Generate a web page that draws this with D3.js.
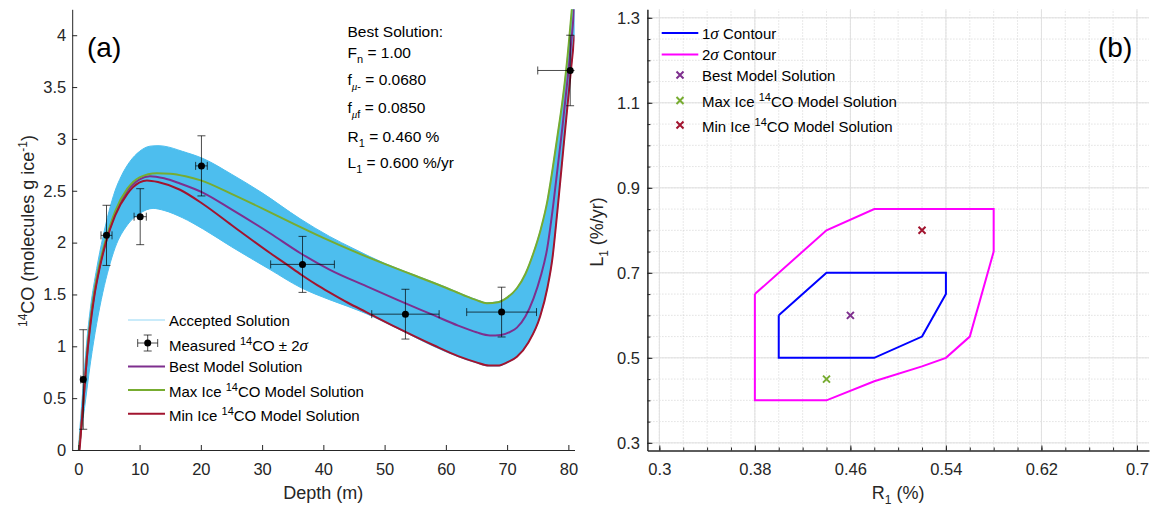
<!DOCTYPE html>
<html>
<head>
<meta charset="utf-8">
<script src="https://cdn.jsdelivr.net/npm/d3@7"></script>
<style>
  body { margin: 0; background: #fff; }
  svg { display: block; }
  text { font-family: Arial, "Liberation Sans", Helvetica, sans-serif; }
</style>
</head>
<body>
<svg id="fig" width="1151" height="508"></svg>
<script>
// ---- panel (a) data: depth (m), 14CO (molecules g ice^-1) ----
const acceptedUpper = [[0,0],[0.5,0.4],[1,0.78],[1.5,1.12],[2,1.38],[3,1.75],[4,2.05],[5,2.3],[6,2.5],[7,2.64],[8.4,2.78],[10,2.88],[11.7,2.93],[13,2.935],[14,2.93],[17,2.88],[20.4,2.81],[25,2.66],[30,2.48],[36.2,2.23],[41,2.06],[45,1.94],[50,1.8],[55,1.685],[60,1.57],[63,1.495],[65,1.45],[66.7,1.42],[68.5,1.43],[70,1.475],[71.6,1.565],[73,1.705],[74.3,1.905],[75.5,2.135],[76.6,2.415],[77.4,2.705],[78.2,3.025],[79,3.355],[79.7,3.705],[80.55,4.245],[81,4.555]];
const acceptedLower = [[0,0],[1,0.4],[2,0.85],[3,1.22],[4,1.52],[5,1.76],[6,1.95],[8,2.17],[10,2.28],[12.2,2.33],[14,2.31],[17,2.24],[20.4,2.13],[25,1.96],[31.3,1.74],[36.2,1.57],[41,1.45],[44,1.385],[47,1.315],[52,1.175],[58,1.0],[62,0.9],[65,0.84],[67,0.81],[68.5,0.81],[70,0.84],[71.6,0.9],[73.5,1.04],[75.4,1.29],[76.6,1.57],[77.4,1.85],[78.2,2.3],[79.3,2.98],[80.4,3.65],[81,4.0]];
const bestModel = [[0.1,0],[0.6,0.3],[1,0.6],[1.5,0.97],[2,1.25],[2.6,1.5],[3.5,1.78],[4.5,2.01],[6,2.28],[8,2.5],[10,2.61],[11.7,2.64],[14,2.62],[16.6,2.57],[20.4,2.48],[25,2.32],[31.3,2.09],[36.2,1.9],[41,1.74],[47,1.58],[52,1.45],[58,1.3],[62,1.2],[65,1.135],[67.2,1.105],[69,1.11],[70.5,1.14],[71.6,1.18],[73,1.29],[74.3,1.46],[75.5,1.68],[76.5,1.93],[77.5,2.35],[78.3,2.75],[79,3.1],[80,3.65],[80.9,4.22],[81.2,4.45]];
const maxIceModel = [[0.1,0],[0.6,0.3],[1,0.6],[1.5,0.98],[2,1.26],[2.6,1.52],[3.5,1.8],[4.5,2.03],[6,2.3],[8,2.52],[10,2.63],[12.8,2.67],[15,2.665],[17.5,2.64],[20,2.6],[25,2.47],[30,2.33],[35,2.185],[40,2.045],[45,1.915],[50,1.795],[55,1.68],[60,1.565],[63,1.49],[65,1.445],[66.7,1.415],[68.5,1.425],[70,1.47],[71.6,1.56],[73,1.7],[74.3,1.9],[75.5,2.13],[76.6,2.41],[77.4,2.7],[78.2,3.02],[79,3.35],[79.7,3.7],[80.55,4.24],[81,4.55]];
const minIceModel = [[0.2,0],[0.6,0.3],[1,0.6],[1.5,0.95],[2,1.22],[2.6,1.48],[3.5,1.76],[4.5,2.0],[6,2.26],[8,2.47],[10,2.58],[11.2,2.6],[13,2.585],[16.6,2.51],[20.4,2.37],[25,2.17],[28,2.04],[31.3,1.9],[34,1.79],[36.4,1.69],[39,1.59],[41,1.52],[44,1.42],[47,1.33],[52,1.18],[58,1.01],[62,0.905],[65,0.845],[67,0.815],[68.5,0.815],[70,0.845],[71.6,0.9],[73.5,1.04],[75.4,1.29],[76.6,1.57],[77.4,1.85],[78.2,2.3],[79.3,2.98],[80.4,3.65],[81,4.0]];

const measDepth = [0.8, 4.6, 10.1, 20.1, 36.6, 53.4, 69.1, 80.3];
const measCO    = [0.68, 2.07, 2.25, 2.74, 1.79, 1.31, 1.33, 3.66];
const measErrCO = [0.48, 0.29, 0.27, 0.29, 0.27, 0.24, 0.24, 0.34];
const measErrD  = [0.4, 0.9, 1.0, 0.95, 5.2, 5.5, 5.7, 5.3];

const depthTicks = [0, 10, 20, 30, 40, 50, 60, 70, 80];
const coTicks = [0, 0.5, 1, 1.5, 2, 2.5, 3, 3.5, 4];

// ---- panel (b) data: R1 (%), L1 (%/yr) ----
const sigma1R = [0.40, 0.44, 0.54, 0.54, 0.52, 0.48, 0.40, 0.40];
const sigma1L = [0.60, 0.70, 0.70, 0.65, 0.55, 0.50, 0.50, 0.60];
const sigma2R = [0.38, 0.44, 0.48, 0.58, 0.58, 0.56, 0.54, 0.52, 0.48, 0.44, 0.38, 0.38];
const sigma2L = [0.65, 0.80, 0.85, 0.85, 0.75, 0.55, 0.50, 0.48, 0.445, 0.40, 0.40, 0.65];
const solutionR = [0.46, 0.44, 0.52];
const solutionL = [0.60, 0.45, 0.80];
const rTicks = [0.3, 0.38, 0.46, 0.54, 0.62, 0.7];
const lTicks = [0.3, 0.5, 0.7, 0.9, 1.1, 1.3];

const axisColor = "#262626";
const cBand = "#4DBEEE", cBest = "#7E2F8E", cMax = "#77AC30", cMin = "#A2142F";
const solutionColors = [cBest, cMax, cMin];

const svg = d3.select("#fig");

// ================= panel (a) =================
const xA = d3.scaleLinear().domain([-1, 81]).range([72.2, 574.5]);
const yA = d3.scaleLinear().domain([0, 4.25]).range([450, 9.3]);

svg.append("defs").append("clipPath").attr("id", "clipA")
  .append("rect").attr("x", xA(-1)).attr("y", yA(4.25))
  .attr("width", xA(81) - xA(-1)).attr("height", yA(0) - yA(4.25));

const lineA = d3.line().x(d => xA(d[0])).y(d => yA(d[1])).curve(d3.curveMonotoneX);
const plotA = svg.append("g").attr("clip-path", "url(#clipA)");

const bandPath = lineA(acceptedUpper) + "L" + lineA(acceptedLower.slice().reverse()).slice(1) + "Z";
plotA.append("path").attr("d", bandPath)
  .attr("fill", cBand).attr("stroke", cBand).attr("stroke-width", 1);

[[bestModel, cBest], [maxIceModel, cMax], [minIceModel, cMin]].forEach(([data, c]) => {
  plotA.append("path").attr("d", lineA(data))
    .attr("fill", "none").attr("stroke", c).attr("stroke-width", 2);
});

// measured points with error bars
const eb = plotA.append("g").attr("stroke", "#000").attr("stroke-opacity", 0.7).attr("stroke-width", 1);
measDepth.forEach((d, i) => {
  const cx = xA(d), cy = yA(measCO[i]);
  const y0 = yA(measCO[i] - measErrCO[i]), y1 = yA(measCO[i] + measErrCO[i]);
  const x0 = xA(d - measErrD[i]), x1 = xA(d + measErrD[i]);
  eb.append("line").attr("x1", cx).attr("x2", cx).attr("y1", y0).attr("y2", y1);
  eb.append("line").attr("x1", cx - 4).attr("x2", cx + 4).attr("y1", y0).attr("y2", y0);
  eb.append("line").attr("x1", cx - 4).attr("x2", cx + 4).attr("y1", y1).attr("y2", y1);
  eb.append("line").attr("x1", x0).attr("x2", x1).attr("y1", cy).attr("y2", cy);
  eb.append("line").attr("x1", x0).attr("x2", x0).attr("y1", cy - 4).attr("y2", cy + 4);
  eb.append("line").attr("x1", x1).attr("x2", x1).attr("y1", cy - 4).attr("y2", cy + 4);
});
plotA.append("g").selectAll("circle").data(measDepth).join("circle")
  .attr("cx", d => xA(d)).attr("cy", (d, i) => yA(measCO[i])).attr("r", 3.5).attr("fill", "#000");

// axes (a)
function styleAxis(g) {
  g.select(".domain").attr("stroke", axisColor);
  g.selectAll(".tick line").attr("stroke", axisColor);
  g.selectAll(".tick text").attr("fill", axisColor).attr("font-size", 16.5)
    .attr("font-family", "Arial, 'Liberation Sans', sans-serif");
}
svg.append("g").attr("transform", `translate(0,${yA(0)})`)
  .call(d3.axisBottom(xA).tickValues(depthTicks).tickSize(-5).tickSizeOuter(0).tickPadding(13).tickFormat(d => d))
  .call(styleAxis);
svg.append("g").attr("transform", `translate(${xA(-1)},0)`)
  .call(d3.axisLeft(yA).tickValues(coTicks).tickSize(-5).tickSizeOuter(0).tickPadding(6).tickFormat(d => d))
  .call(styleAxis);

svg.append("text").attr("x", (xA(-1) + xA(81)) / 2).attr("y", 499).attr("text-anchor", "middle")
  .attr("font-size", 18).attr("fill", axisColor).text("Depth (m)");
const yl = svg.append("text").attr("transform", "translate(34,231) rotate(-90)")
  .attr("text-anchor", "middle").attr("font-size", 18).attr("fill", axisColor);
yl.append("tspan").attr("font-size", 12).attr("dy", -7).text("14");
yl.append("tspan").attr("dy", 7).text("CO (molecules g ice");
yl.append("tspan").attr("font-size", 12).attr("dy", -7).text("-1");
yl.append("tspan").attr("dy", 7).text(")");

svg.append("text").attr("x", 87).attr("y", 57).attr("font-size", 28).attr("fill", "#000").text("(a)");

// annotation
const ann = svg.append("g").attr("font-size", 15.5).attr("fill", "#000");
const annRows = [
  {y: 37, main: "Best Solution:", sub: null, rest: ""},
  {y: 58, main: "F", sub: "n", rest: " = 1.00"},
  {y: 85, main: "f", sub: "\u03BC-", rest: " = 0.0680"},
  {y: 113, main: "f", sub: "\u03BCf", rest: " = 0.0850"},
  {y: 142, main: "R", sub: "1", rest: " = 0.460 %"},
  {y: 168, main: "L", sub: "1", rest: " = 0.600 %/yr"}
];
annRows.forEach(r => {
  const t = ann.append("text").attr("x", 347.5).attr("y", r.y);
  t.append("tspan").text(r.main);
  if (r.sub) {
    const s = t.append("tspan").attr("dy", 5).attr("font-size", 11);
    if (r.sub[0] === "\u03BC") {
      s.append("tspan").attr("font-style", "italic").attr("font-family", "'Liberation Serif', serif").text("\u03BC");
      s.append("tspan").text(r.sub.slice(1));
    } else s.text(r.sub);
    t.append("tspan").attr("dy", -5).text(r.rest);
  }
});

// legend (a)
const legA = svg.append("g").attr("font-size", 15).attr("fill", "#000");
const legARows = [320, 343, 366.5, 390, 413.7];
legA.append("line").attr("x1", 128).attr("x2", 165).attr("y1", legARows[0]).attr("y2", legARows[0])
  .attr("stroke", cBand).attr("stroke-opacity", 0.6).attr("stroke-width", 1.2);
{
  const cx = 147.7, cy = legARows[1];
  const g = legA.append("g").attr("stroke", "#000").attr("stroke-opacity", 0.7).attr("stroke-width", 1);
  g.append("line").attr("x1", cx).attr("x2", cx).attr("y1", cy - 8).attr("y2", cy + 8);
  g.append("line").attr("x1", cx - 4).attr("x2", cx + 4).attr("y1", cy - 8).attr("y2", cy - 8);
  g.append("line").attr("x1", cx - 4).attr("x2", cx + 4).attr("y1", cy + 8).attr("y2", cy + 8);
  g.append("line").attr("x1", cx - 10).attr("x2", cx + 10).attr("y1", cy).attr("y2", cy);
  g.append("line").attr("x1", cx - 10).attr("x2", cx - 10).attr("y1", cy - 4).attr("y2", cy + 4);
  g.append("line").attr("x1", cx + 10).attr("x2", cx + 10).attr("y1", cy - 4).attr("y2", cy + 4);
  legA.append("circle").attr("cx", cx).attr("cy", cy).attr("r", 3.5).attr("fill", "#000");
}
[cBest, cMax, cMin].forEach((c, i) => {
  const y = legARows[i + 2];
  legA.append("line").attr("x1", 128).attr("x2", 165).attr("y1", y).attr("y2", y)
    .attr("stroke", c).attr("stroke-width", 2);
});
function supText(parent, x, y, parts) {
  const t = parent.append("text").attr("x", x).attr("y", y);
  parts.forEach(p => {
    const s = t.append("tspan").text(p.t);
    if (p.sup) s.attr("font-size", 11).attr("dy", -6);
    if (p.back) s.attr("dy", 6);
    if (p.it) s.attr("font-style", "italic").attr("font-family", "'Liberation Serif', serif").attr("font-size", 17);
  });
  return t;
}
supText(legA, 169, legARows[0] + 5.5, [{t: "Accepted Solution"}]);
supText(legA, 169, legARows[1] + 8, [{t: "Measured "}, {t: "14", sup: true}, {t: "CO \u00B1 2", back: true}, {t: "\u03C3", it: true}]);
supText(legA, 169, legARows[2] + 5.5, [{t: "Best Model Solution"}]);
supText(legA, 169, legARows[3] + 7, [{t: "Max Ice "}, {t: "14", sup: true}, {t: "CO Model Solution", back: true}]);
supText(legA, 169, legARows[4] + 7, [{t: "Min Ice "}, {t: "14", sup: true}, {t: "CO Model Solution", back: true}]);

// ================= panel (b) =================
const xB = d3.scaleLinear().domain([0.29, 0.71]).range([647.4, 1148.9]);
const yB = d3.scaleLinear().domain([0.282, 1.32]).range([450.5, 9.3]);

const rMinor = d3.range(0.30, 0.7001, 0.02);
const lMinor = d3.range(0.30, 1.3001, 0.05);
const grid = svg.append("g");
grid.selectAll(".vmin").data(rMinor).join("line")
  .attr("x1", d => xB(d)).attr("x2", d => xB(d)).attr("y1", yB(0.282)).attr("y2", yB(1.32))
  .attr("stroke", "#c8c8c8").attr("stroke-width", 0.8).attr("stroke-dasharray", "1,2");
grid.selectAll(".hmin").data(lMinor).join("line")
  .attr("y1", d => yB(d)).attr("y2", d => yB(d)).attr("x1", xB(0.29)).attr("x2", xB(0.71))
  .attr("stroke", "#c8c8c8").attr("stroke-width", 0.8).attr("stroke-dasharray", "1,2");
grid.selectAll(".vmaj").data(rTicks).join("line")
  .attr("x1", d => xB(d)).attr("x2", d => xB(d)).attr("y1", yB(0.282)).attr("y2", yB(1.32))
  .attr("stroke", "#e0e0e0").attr("stroke-width", 1);
grid.selectAll(".hmaj").data(lTicks).join("line")
  .attr("y1", d => yB(d)).attr("y2", d => yB(d)).attr("x1", xB(0.29)).attr("x2", xB(0.71))
  .attr("stroke", "#e0e0e0").attr("stroke-width", 1);

const lineB = d3.line().x(d => xB(d[0])).y(d => yB(d[1]));
svg.append("path").attr("d", lineB(sigma2R.map((r, i) => [r, sigma2L[i]])))
  .attr("fill", "none").attr("stroke", "#FF00FF").attr("stroke-width", 2);
svg.append("path").attr("d", lineB(sigma1R.map((r, i) => [r, sigma1L[i]])))
  .attr("fill", "none").attr("stroke", "#0000FF").attr("stroke-width", 2);

function cross(g, x, y, c) {
  g.append("path").attr("d", `M${x - 3.5},${y - 3.5}L${x + 3.5},${y + 3.5}M${x - 3.5},${y + 3.5}L${x + 3.5},${y - 3.5}`)
    .attr("stroke", c).attr("stroke-width", 2).attr("fill", "none");
}
solutionR.forEach((r, i) => cross(svg, xB(r), yB(solutionL[i]), solutionColors[i]));

// axes (b)
svg.append("g").attr("transform", `translate(0,${yB(0.282)})`)
  .call(d3.axisBottom(xB).tickValues(rMinor).tickSize(-3).tickSizeOuter(0).tickFormat(""))
  .call(styleAxis);
svg.append("g").attr("transform", `translate(${xB(0.29)},0)`)
  .call(d3.axisLeft(yB).tickValues(lMinor).tickSize(-3).tickSizeOuter(0).tickFormat(""))
  .call(styleAxis);
svg.append("g").attr("transform", `translate(0,${yB(0.282)})`)
  .call(d3.axisBottom(xB).tickValues(rTicks).tickSize(-5).tickSizeOuter(0).tickPadding(13).tickFormat(d => String(+d.toFixed(2))))
  .call(styleAxis);
svg.append("g").attr("transform", `translate(${xB(0.29)},0)`)
  .call(d3.axisLeft(yB).tickValues(lTicks).tickSize(-5).tickSizeOuter(0).tickPadding(7.5).tickFormat(d3.format(".1f")))
  .call(styleAxis);

const xl = svg.append("text").attr("x", (xB(0.29) + xB(0.71)) / 2).attr("y", 499)
  .attr("text-anchor", "middle").attr("font-size", 18).attr("fill", axisColor);
xl.append("tspan").text("R");
xl.append("tspan").attr("font-size", 12).attr("dy", 5).text("1");
xl.append("tspan").attr("dy", -5).text(" (%)");
const yl2 = svg.append("text").attr("transform", "translate(603,232) rotate(-90)")
  .attr("text-anchor", "middle").attr("font-size", 18).attr("fill", axisColor);
yl2.append("tspan").text("L");
yl2.append("tspan").attr("font-size", 12).attr("dy", 5).text("1");
yl2.append("tspan").attr("dy", -5).text(" (%/yr)");

svg.append("text").attr("x", 1098).attr("y", 57).attr("font-size", 28).attr("fill", "#000").text("(b)");

// legend (b)
const legB = svg.append("g").attr("font-size", 15).attr("fill", "#000");
const legBRows = [33, 54.5, 75, 100.5, 125];
legB.append("line").attr("x1", 661.7).attr("x2", 698.3).attr("y1", legBRows[0]).attr("y2", legBRows[0])
  .attr("stroke", "#0000FF").attr("stroke-width", 2);
legB.append("line").attr("x1", 661.7).attr("x2", 698.3).attr("y1", legBRows[1]).attr("y2", legBRows[1])
  .attr("stroke", "#FF00FF").attr("stroke-width", 2);
solutionColors.forEach((c, i) => cross(legB, 680, legBRows[i + 2], c));
supText(legB, 702, legBRows[0] + 5.5, [{t: "1"}, {t: "\u03C3", it: true}, {t: " Contour"}]);
supText(legB, 702, legBRows[1] + 5.5, [{t: "2"}, {t: "\u03C3", it: true}, {t: " Contour"}]);
supText(legB, 702, legBRows[2] + 5.5, [{t: "Best Model Solution"}]);
supText(legB, 702, legBRows[3] + 6.5, [{t: "Max Ice "}, {t: "14", sup: true}, {t: "CO Model Solution", back: true}]);
supText(legB, 702, legBRows[4] + 6.5, [{t: "Min Ice "}, {t: "14", sup: true}, {t: "CO Model Solution", back: true}]);
</script>
</body>
</html>
